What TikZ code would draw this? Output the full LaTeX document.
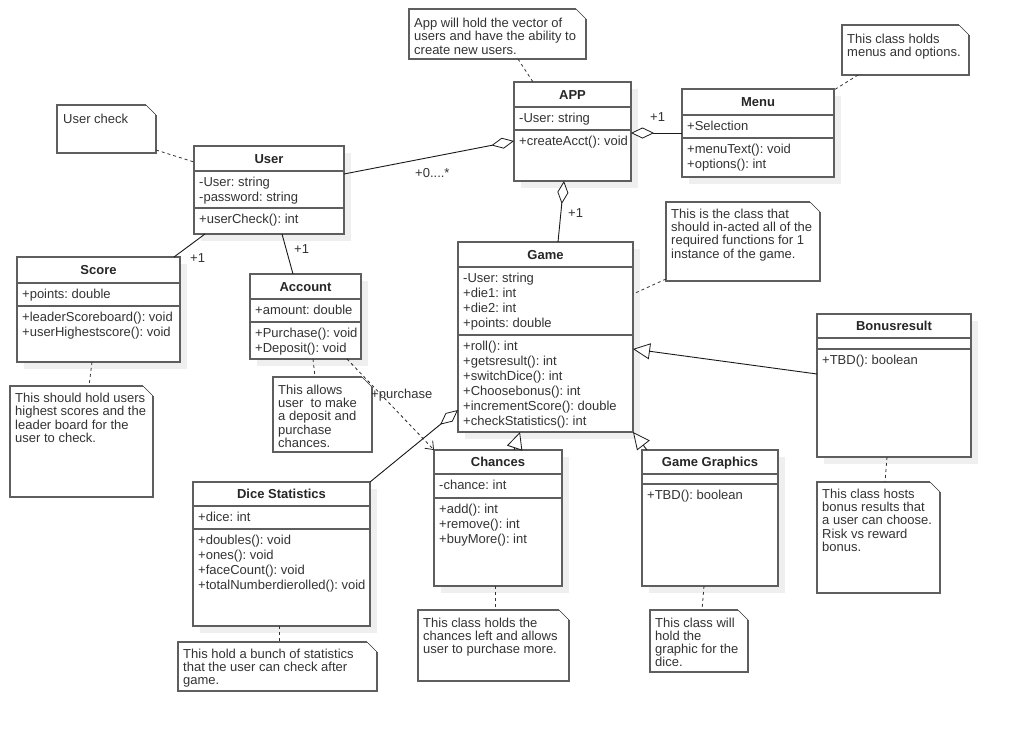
\documentclass[tikz,border=0pt]{standalone}
\usepackage{fontspec}
\setmainfont{Liberation Sans}
\usetikzlibrary{arrows.meta,shadows}
\frenchspacing

\definecolor{boxedge}{HTML}{5E5E5E}
\definecolor{ink}{HTML}{333333}
\definecolor{shade}{HTML}{EFEFEF}

\tikzset{
  classbox/.style={draw=boxedge, line width=1.4pt, fill=white, outer sep=0pt,
    inner sep=0pt, anchor=north west,
    drop shadow={shadow xshift=7pt, shadow yshift=-7pt, fill=shade, opacity=1}},
  sepline/.style={draw=boxedge, line width=1.4pt},
  notebox/.style={outer sep=0pt, inner sep=0pt, anchor=north west},
  noteedge/.style={draw=boxedge, line width=1.4pt, line join=miter},
  notefold/.style={draw=black!80, line width=0.6pt},
  linetext/.style={anchor=base west, inner sep=0pt, text=ink,
    font=\fontsize{13}{15}\selectfont},
  titletext/.style={anchor=base, inner sep=0pt, text=black!85,
    font=\fontsize{13}{15}\selectfont\bfseries},
  multtext/.style={anchor=base west, inner sep=0pt, text=ink,
    font=\fontsize{13}{15}\selectfont},
  assoc/.style={draw=black!90, line width=0.9pt},
  aggr/.style={assoc, -{Diamond[fill=white, length=23pt, width=11pt, line width=0.8pt]}},
  genl/.style={assoc, -{Triangle[fill=white, length=17pt, width=16pt, line width=0.8pt]}},
  depend/.style={draw=black!85, line width=0.8pt, dash pattern=on 3pt off 3pt,
    -{Straight Barb[length=7pt, width=11pt, line width=0.8pt]}},
  notelink/.style={draw=black!80, line width=0.8pt, dash pattern=on 3pt off 3pt},
}

% class box: name, left, top, right, bottom, first separator, second separator, title
\newcommand\umlclass[8]{%
  \node[classbox, minimum width={(#4-#2)*1pt}, minimum height={(#5-#3)*1pt}] (#1) at (#2,#3) {};
  \draw[sepline] (#2,#6) -- (#4,#6);
  \draw[sepline] (#2,#7) -- (#4,#7);
  \node[titletext] (#1-title) at ({(#2+#4)/2},{(#3+#6)/2+4.5}) {#8};
}

% note box with folded corner: name, left, top, right, bottom
\newcommand\umlnote[5]{%
  \node[notebox, minimum width={(#4-#2)*1pt}, minimum height={(#5-#3)*1pt}] (#1) at (#2,#3) {};
  \fill[white] (#1.north west) -- ([xshift=-10pt]#1.north east) -- ([yshift=-10pt]#1.north east)
    -- (#1.south east) -- (#1.south west) -- cycle;
  \draw[noteedge] ([yshift=-10pt]#1.north east) -- (#1.south east) -- (#1.south west)
    -- (#1.north west) -- ([xshift=-10pt]#1.north east);
  \draw[notefold] ([xshift=-10pt]#1.north east) -- ([yshift=-10pt]#1.north east);
}

% stacked text lines: prefix, x, first baseline, line spacing, lines
\newcommand\textlines[5]{%
  \foreach \ln [count=\k] in {#5} {\node[linetext] (#1-\k) at (#2,{#3+(\k-1)*#4}) {\ln};}
}

\begin{document}
\begin{tikzpicture}[x=1pt,y=-1pt]
  \fill[white] (0,0) rectangle (1010,732);
  \useasboundingbox (0,0) rectangle (1010,732);

  % ---------- classes ----------
  \umlclass{app}{514}{82}{631}{181}{107}{130}{APP}
  \textlines{app-a}{519}{122}{15}{-User: string}
  \textlines{app-m}{519}{145}{15}{+createAcct(): void}

  \umlclass{menu}{682}{89}{834}{177}{115}{138}{Menu}
  \textlines{menu-a}{687}{130}{15}{+Selection}
  \textlines{menu-m}{687}{153}{15}{+menuText(): void, +options(): int}

  \umlclass{user}{194}{146}{344}{234}{171}{208}{User}
  \textlines{user-a}{199}{186}{15}{-User: string, -password: string}
  \textlines{user-m}{199}{223}{15}{+userCheck(): int}

  \umlclass{score}{17}{257}{180}{362}{283}{306}{Score}
  \textlines{score-a}{22}{298}{15}{+points: double}
  \textlines{score-m}{22}{321}{15}{+leaderScoreboard(): void, +userHighestscore(): void}

  \umlclass{account}{250}{274}{361}{359}{299}{322}{Account}
  \textlines{account-a}{255}{314}{15}{+amount: double}
  \textlines{account-m}{255}{337}{15}{+Purchase(): void, +Deposit(): void}

  \umlclass{game}{458}{242}{633}{432}{267}{335}{Game}
  \textlines{game-a}{463}{282}{15}{-User: string, +die1: int, +die2: int, +points: double}
  \textlines{game-m}{463}{350}{15}{+roll(): int, +getsresult(): int, +switchDice(): int,
    +Choosebonus(): int, +incrementScore(): double, +checkStatistics(): int}

  \umlclass{bonus}{817}{314}{971}{457}{338}{349}{Bonusresult}
  \textlines{bonus-m}{822}{364}{15}{+TBD(): boolean}

  \umlclass{chances}{434}{450}{562}{586}{474}{498}{Chances}
  \textlines{chances-a}{439}{489}{15}{-chance: int}
  \textlines{chances-m}{439}{513}{15}{+add(): int, +remove(): int, +buyMore(): int}

  \umlclass{dice}{193}{482}{370}{626}{506}{529}{Dice Statistics}
  \textlines{dice-a}{198}{521}{15}{+dice: int}
  \textlines{dice-m}{198}{544}{15}{+doubles(): void, +ones(): void, +faceCount(): void,
    +totalNumberdierolled(): void}

  \umlclass{gg}{642}{450}{778}{586}{474}{484}{Game Graphics}
  \textlines{gg-m}{647}{499}{15}{+TBD(): boolean}

  % ---------- notes ----------
  \umlnote{nApp}{409}{9}{586}{59}
  \textlines{nApp-t}{414}{27.5}{13.3}{App will hold the vector of, users and have the ability to, create new users.}

  \umlnote{nMenu}{842}{25}{969}{75}
  \textlines{nMenu-t}{847}{43}{13.3}{This class holds, menus and options.}

  \umlnote{nUser}{57}{105}{156}{153}
  \textlines{nUser-t}{63}{123}{13.3}{User check}

  \umlnote{nScore}{10}{386}{153}{497}
  \textlines{nScore-t}{15}{402.5}{13.3}{This should hold users, highest scores and the, leader board for the, user to check.}

  \umlnote{nAccount}{273}{377}{372}{452}
  \textlines{nAccount-t}{278}{394.5}{13.2}{This allows, user\ \ to make, a deposit and, purchase, chances.}

  \umlnote{nGame}{666}{202}{820}{281}
  \textlines{nGame-t}{671}{218.5}{13.2}{This is the class that, should in-acted all of the, required functions for 1, instance of the game.}

  \umlnote{nBonus}{817}{482}{940}{593}
  \textlines{nBonus-t}{822}{498.5}{13.2}{This class hosts, bonus results that, a user can choose., Risk vs reward, bonus.}

  \umlnote{nChances}{418}{610}{569}{681}
  \textlines{nChances-t}{423}{627}{13.3}{This class holds the, chances left and allows, user to purchase more.}

  \umlnote{nDice}{178}{642}{377}{691}
  \textlines{nDice-t}{183}{658}{13.3}{This hold a bunch of statistics, that the user can check after, game.}

  \umlnote{nGG}{650}{610}{748}{672}
  \textlines{nGG-t}{655}{627}{13.3}{This class will, hold the, graphic for the, dice.}

  % ---------- associations and aggregations ----------
  \draw[aggr] ([yshift=-28pt]user.north east) -- ([yshift=-59pt]app.north west);
  \node[multtext] (m-users) at (415,177.5) {+0....*};

  \draw[aggr] ([yshift=-44pt]menu.north west) -- ([yshift=-51pt]app.north east);
  \node[multtext] (m-menu) at (650,121.5) {+1};

  \draw[aggr] ([xshift=100pt]game.north west) -- ([xshift=50pt]app.south west);
  \node[multtext] (m-game) at (568,217) {+1};

  \draw[assoc] ([xshift=11pt]user.south west) -- ([xshift=-6pt]score.north east);
  \node[multtext] (m-score) at (190,262.5) {+1};

  \draw[assoc] ([xshift=88pt]user.south west) -- ([xshift=43pt]account.north west);
  \node[multtext] (m-account) at (294,253.5) {+1};

  \draw[aggr] (dice.north east) -- ([yshift=22pt]game.south west);

  % ---------- dependency ----------
  \draw[depend] ([xshift=97pt]account.south west) -- (chances.north west);
  \node[multtext] (l-purchase) at (371,398.5) {+purchase};

  % ---------- generalizations ----------
  \draw[genl] ([xshift=80pt]chances.north west) -- ([xshift=62pt]game.south west);
  \draw[genl] ([xshift=5pt]gg.north west) -- (game.south east);
  \draw[genl] ([yshift=-60pt]bonus.north west) -- ([yshift=-107pt]game.north east);

  % ---------- note anchors ----------
  \draw[notelink] ([xshift=109pt]nApp.south west) -- ([xshift=19pt]app.north west);
  \draw[notelink] ([xshift=16pt]nMenu.south west) -- ([yshift=-1pt]menu.north east);
  \draw[notelink] ([yshift=3pt]nUser.south east) -- ([yshift=-16pt]user.north west);
  \draw[notelink] ([xshift=75pt]score.south west) -- ([xshift=79pt]nScore.north west);
  \draw[notelink] ([xshift=63pt]account.south west) -- ([xshift=42pt]nAccount.north west);
  \draw[notelink] ([yshift=2pt]nGame.south west) -- ([yshift=-52pt]game.north east);
  \draw[notelink] ([xshift=70pt]bonus.south west) -- ([xshift=68pt]nBonus.north west);
  \draw[notelink] ([xshift=61pt]chances.south west) -- ([xshift=77pt]nChances.north west);
  \draw[notelink] ([xshift=86pt]dice.south west) -- ([xshift=101pt]nDice.north west);
  \draw[notelink] ([xshift=62pt]gg.south west) -- ([xshift=52pt]nGG.north west);
\end{tikzpicture}
\end{document}
